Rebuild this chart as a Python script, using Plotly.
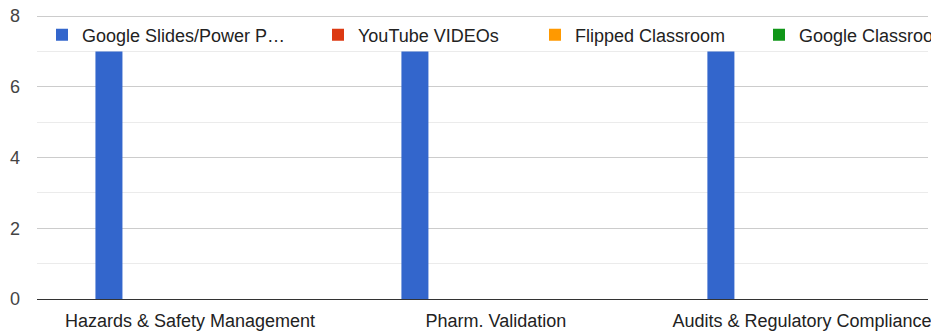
import plotly.graph_objects as go

categories = ["Hazards & Safety Management", "Pharm. Validation", "Audits & Regulatory Compliance"]
series_names = ["Google Slides/Power P…", "YouTube VIDEOs", "Flipped Classroom", "Google Classroom",
                "Series 5", "Series 6", "Series 7"]
series_values = [
    [7, 7, 7],
    [0, 0, 0],
    [0, 0, 0],
    [0, 0, 0],
    [0, 0, 0],
    [0, 0, 0],
    [0, 0, 0],
]
colors = ["#3366cc", "#dc3912", "#ff9900", "#109618", "#990099", "#0099c6", "#dd4477"]
legend_widths = [231, 172, 179, 127, None, None, None]

FONT = "Arial, 'Liberation Sans', sans-serif"

fig = go.Figure()
for i, (name, vals) in enumerate(zip(series_names, series_values)):
    kw = {}
    if legend_widths[i] is not None:
        kw["legendwidth"] = legend_widths[i]
    fig.add_trace(go.Bar(
        x=categories, y=vals, name=name,
        marker=dict(color=colors[i], line=dict(width=0)),
        showlegend=i < 4, **kw
    ))

fig.update_layout(
    width=931, height=331,
    margin=dict(l=37, r=0, t=9, b=30),
    paper_bgcolor="white", plot_bgcolor="white",
    barmode="group", bargap=0.382, bargroupgap=0,
    font=dict(family=FONT, size=18, color="#222222"),
    legend=dict(
        orientation="h", x=10 / 894, xanchor="left", y=0.91, yanchor="middle",
        bgcolor="rgba(0,0,0,0)", font=dict(size=18, color="#222222"),
        itemclick=False,
    ),
    xaxis=dict(
        range=[-0.5, 2.412], showgrid=False, zeroline=False,
        showline=True, linecolor="#333333", linewidth=1,
        ticks="", tickfont=dict(size=18, color="#222222"), ticklabelstandoff=5,
    ),
    yaxis=dict(
        range=[0, 8.2], dtick=2, tick0=0, showgrid=True, gridcolor="#cccccc", gridwidth=1,
        zeroline=False, showline=False, ticks="", ticklabeloverflow="allow",
        tickfont=dict(size=18, color="#444444"), ticklabelstandoff=16,
        minor=dict(dtick=1, tick0=0, showgrid=True, gridcolor="#ebebeb", gridwidth=1),
    ),
)

fig.write_html(
    "out.html",
    config={"displayModeBar": False},
    post_script=(
        "document.documentElement.style.overflow='hidden';"
        "document.body.style.margin='0';"
        "document.body.style.overflow='hidden';"
    ),
)
